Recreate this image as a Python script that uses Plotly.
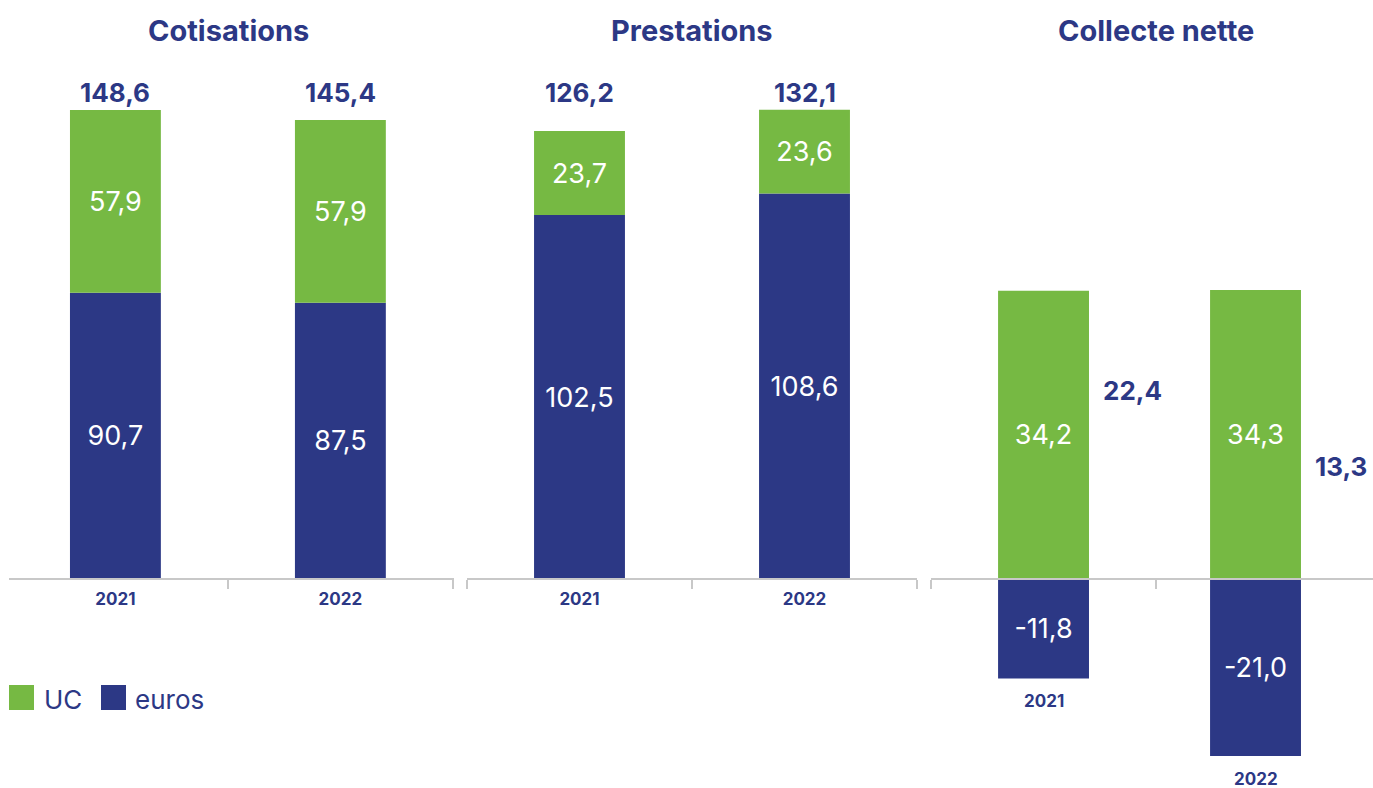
import plotly.graph_objects as go

# ---- data (milliards d'euros) ----
years = ["2021", "2022"]
cotisations_euros = [90.7, 87.5]
cotisations_uc = [57.9, 57.9]
cotisations_total = [148.6, 145.4]
prestations_euros = [102.5, 108.6]
prestations_uc = [23.7, 23.6]
prestations_total = [126.2, 132.1]
collecte_euros = [-11.8, -21.0]
collecte_uc = [34.2, 34.3]
collecte_total = [22.4, 13.3]
panel_titles = ["Cotisations", "Prestations", "Collecte nette"]
legend_labels = ["UC", "euros"]

GREEN = "#76B943"
NAVY = "#2C3885"
AXIS_GREY = "#C8C8C8"
FONT = "Inter, 'Open Sans', sans-serif"

W, H = 1373, 788
BASE_PX = 579  # pixel row of the zero line


def px(x):
    return x / W


def py(y):
    return 1 - y / H


def fmt(v):
    return f"{v:.1f}".replace(".", ",")


panels = [
    dict(euros=cotisations_euros, uc=cotisations_uc, total=cotisations_total,
         dom=(9, 454), xr=[-0.473, 1.505], ppu=(BASE_PX - 110) / max(cotisations_total),
         bw=0.404, shift=[0.0, 0.0]),
    dict(euros=prestations_euros, uc=prestations_uc, total=prestations_total,
         dom=(467, 917), xr=[-0.5, 1.5], ppu=(BASE_PX - 110) / max(prestations_total),
         bw=0.404, shift=[0.0, 0.0]),
    dict(euros=collecte_euros, uc=collecte_uc, total=collecte_total,
         dom=(931, 1373), xr=[-0.5, 1.464], ppu=(BASE_PX - 290) / max(collecte_uc),
         bw=0.404, shift=[0.0, -0.058]),
]

fig = go.Figure()
annotations = []
layout_axes = {}

for i, p in enumerate(panels, start=1):
    xa = "x" if i == 1 else f"x{i}"
    ya = "y" if i == 1 else f"y{i}"
    offsets = [s - p["bw"] / 2 for s in p["shift"]]
    for vals, color in ((p["euros"], NAVY), (p["uc"], GREEN)):
        fig.add_trace(go.Bar(
            x=years, y=vals, xaxis=xa, yaxis=ya, width=p["bw"], offset=offsets,
            marker=dict(color=color, line=dict(width=0)),
            text=[fmt(v) for v in vals], texttemplate="%{text}",
            textposition="inside", insidetextanchor="middle", textangle=0,
            insidetextfont=dict(family=FONT, size=27, color="white"),
            showlegend=False, hoverinfo="skip",
        ))

    ppu = p["ppu"]
    yrange = [-(H - BASE_PX) / ppu, BASE_PX / ppu]
    xkey = "xaxis" if i == 1 else f"xaxis{i}"
    ykey = "yaxis" if i == 1 else f"yaxis{i}"
    layout_axes[xkey] = dict(
        type="category", domain=[px(p["dom"][0]), px(p["dom"][1])], range=p["xr"],
        anchor="free", position=py(BASE_PX),
        showline=True, linecolor=AXIS_GREY, linewidth=1.5,
        ticks="outside", tickson="boundaries", ticklen=9, tickwidth=1.5, tickcolor=AXIS_GREY,
        showticklabels=(i != 3), ticklabelstandoff=5,
        tickfont=dict(family=FONT, size=17, color=NAVY, weight="bold"),
        showgrid=False, zeroline=False, fixedrange=True,
    )
    layout_axes[ykey] = dict(domain=[0, 1], range=yrange, visible=False, fixedrange=True,
                             anchor=xa)

    # panel title
    title_x = [228, 692, 1156][i - 1]
    annotations.append(dict(
        xref="paper", yref="paper", x=px(title_x), y=py(30), text=f"<b>{panel_titles[i - 1]}</b>",
        showarrow=False, xanchor="center", yanchor="middle",
        font=dict(family=FONT, size=29, color=NAVY),
    ))

    for k, tot in enumerate(p["total"]):
        centre = k + p["shift"][k]
        if i < 3:
            annotations.append(dict(
                xref=xa, yref="paper", x=centre, y=py(92), text=f"<b>{fmt(tot)}</b>",
                showarrow=False, xanchor="center", yanchor="middle",
                font=dict(family=FONT, size=26, color=NAVY),
            ))
        else:
            # net total beside the bar, at its own height
            annotations.append(dict(
                xref=xa, yref=ya, x=centre + p["bw"] / 2, y=tot, text=f"<b>{fmt(tot)}</b>",
                showarrow=False, xanchor="left", yanchor="middle", xshift=12,
                font=dict(family=FONT, size=26, color=NAVY),
            ))
            # year label below the negative bar
            annotations.append(dict(
                xref=xa, yref=ya, x=centre, y=p["euros"][k], text=f"<b>{years[k]}</b>",
                showarrow=False, xanchor="center", yanchor="top", yshift=-11,
                font=dict(family=FONT, size=17, color=NAVY),
            ))

# legend swatches and labels
shapes = []
swatches = [(9, GREEN, legend_labels[0], 42), (101, NAVY, legend_labels[1], 133)]
for x0, col, label, tx in swatches:
    shapes.append(dict(type="rect", xref="paper", yref="paper",
                       x0=px(x0), x1=px(x0 + 25), y0=py(710), y1=py(685),
                       fillcolor=col, line=dict(width=0)))
    annotations.append(dict(xref="paper", yref="paper", x=px(tx), y=py(699), text=label,
                            showarrow=False, xanchor="left", yanchor="middle",
                            font=dict(family=FONT, size=26, color=NAVY)))

fig.update_layout(
    width=W, height=H, margin=dict(l=0, r=0, t=0, b=0),
    paper_bgcolor="white", plot_bgcolor="rgba(0,0,0,0)",
    barmode="relative", separators=", ",
    annotations=annotations, shapes=shapes, showlegend=False,
    **layout_axes,
)

fig.write_html("out.html")
